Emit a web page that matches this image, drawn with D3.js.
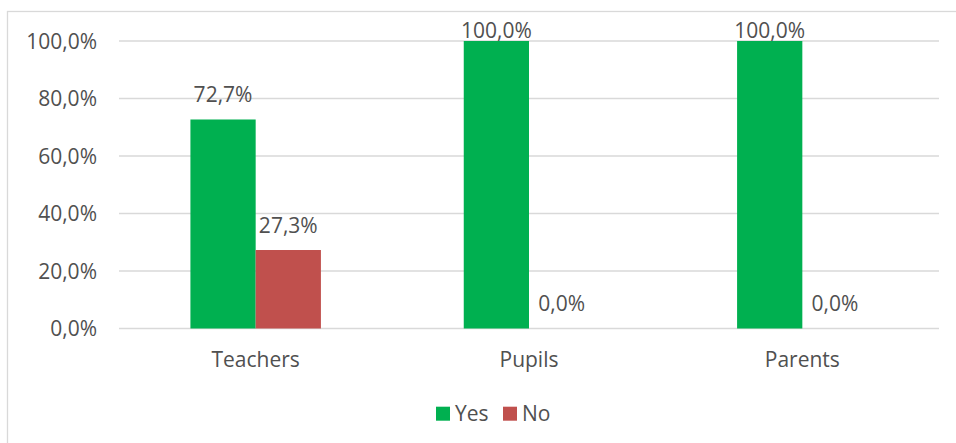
<!DOCTYPE html>
<html>
<head>
<meta charset="utf-8">
<script src="https://cdn.jsdelivr.net/npm/d3@7"></script>
<style>
  html, body { margin: 0; padding: 0; background: #fff; }
  svg text { font-family: "Open Sans", sans-serif; fill: #505050; }
</style>
</head>
<body>
<div id="chart"></div>
<script>
// Chart data
const categories = ["Teachers", "Pupils", "Parents"];
const seriesNames = ["Yes", "No"];
const yesValues = [72.7, 100.0, 100.0];
const noValues = [27.3, 0.0, 0.0];
const yTicks = [0, 20, 40, 60, 80, 100];
const colors = ["#00b050", "#c0504d"];

const W = 956, H = 443;
const margin = { top: 41, right: 17, bottom: 114.5, left: 119 };
const width = W - margin.left - margin.right;
const height = H - margin.top - margin.bottom;
const fontSize = "21px";

const svg = d3.select("#chart").append("svg")
  .attr("width", W).attr("height", H);

// outer chart border (only left & top visible in the picture)
svg.append("rect")
  .attr("x", 7.5).attr("y", 11.5)
  .attr("width", 960).attr("height", 460)
  .attr("fill", "none").attr("stroke", "#d9d9d9").attr("stroke-width", 1.3);

const g = svg.append("g").attr("transform", `translate(${margin.left},${margin.top})`);

const x0 = d3.scaleBand().domain(categories).range([0, width]).paddingInner(0).paddingOuter(0);
const x1 = d3.scaleBand().domain(seriesNames).range([0, 130.5])
  .paddingInner(0).paddingOuter(0);
const groupOffset = (x0.bandwidth() - 130.5) / 2;
const y = d3.scaleLinear().domain([0, 100]).range([height, 0]);

// gridlines
g.append("g")
  .selectAll("line")
  .data(yTicks)
  .join("line")
  .attr("x1", 0).attr("x2", width)
  .attr("y1", d => y(d)).attr("y2", d => y(d))
  .attr("stroke", "#d9d9d9").attr("stroke-width", 1.3);

// y axis labels
const fmt = d => d3.format(".1f")(d).replace(".", ",") + "%";
g.append("g")
  .selectAll("text")
  .data(yTicks)
  .join("text")
  .attr("x", -22).attr("y", d => y(d) + 7.5)
  .attr("text-anchor", "end")
  .style("font-size", fontSize)
  .text(fmt);

// bars
const rows = categories.map((c, i) => ({ cat: c, vals: [yesValues[i], noValues[i]] }));
const groups = g.selectAll(".grp").data(rows).join("g")
  .attr("transform", d => `translate(${x0(d.cat) + groupOffset},0)`);

groups.selectAll("rect")
  .data(d => d.vals.map((v, j) => ({ s: seriesNames[j], v, j })))
  .join("rect")
  .attr("x", d => x1(d.s))
  .attr("width", x1.bandwidth())
  .attr("y", d => y(d.v))
  .attr("height", d => height - y(d.v))
  .attr("fill", d => colors[d.j]);

groups.selectAll("text")
  .data(d => d.vals.map((v, j) => ({ s: seriesNames[j], v, j })))
  .join("text")
  .attr("x", d => x1(d.s) + x1.bandwidth() / 2)
  .attr("y", d => Math.max(y(d.v) - 17.5, -3))
  .attr("text-anchor", "middle")
  .style("font-size", fontSize)
  .text(d => fmt(d.v));

// category labels
g.append("g")
  .selectAll("text")
  .data(categories)
  .join("text")
  .attr("x", d => x0(d) + x0.bandwidth() / 2)
  .attr("y", height + 38.5)
  .attr("text-anchor", "middle")
  .style("font-size", fontSize)
  .text(d => d);

// legend
const legend = svg.append("g");
const legendItems = [{ name: "Yes", x: 436 }, { name: "No", x: 503 }];
legendItems.forEach((it, i) => {
  legend.append("rect")
    .attr("x", it.x).attr("y", 406.7)
    .attr("width", 14).attr("height", 14)
    .attr("fill", colors[i]);
  legend.append("text")
    .attr("x", it.x + 19).attr("y", 420.7)
    .style("font-size", fontSize)
    .text(it.name);
});
</script>
</body>
</html>
